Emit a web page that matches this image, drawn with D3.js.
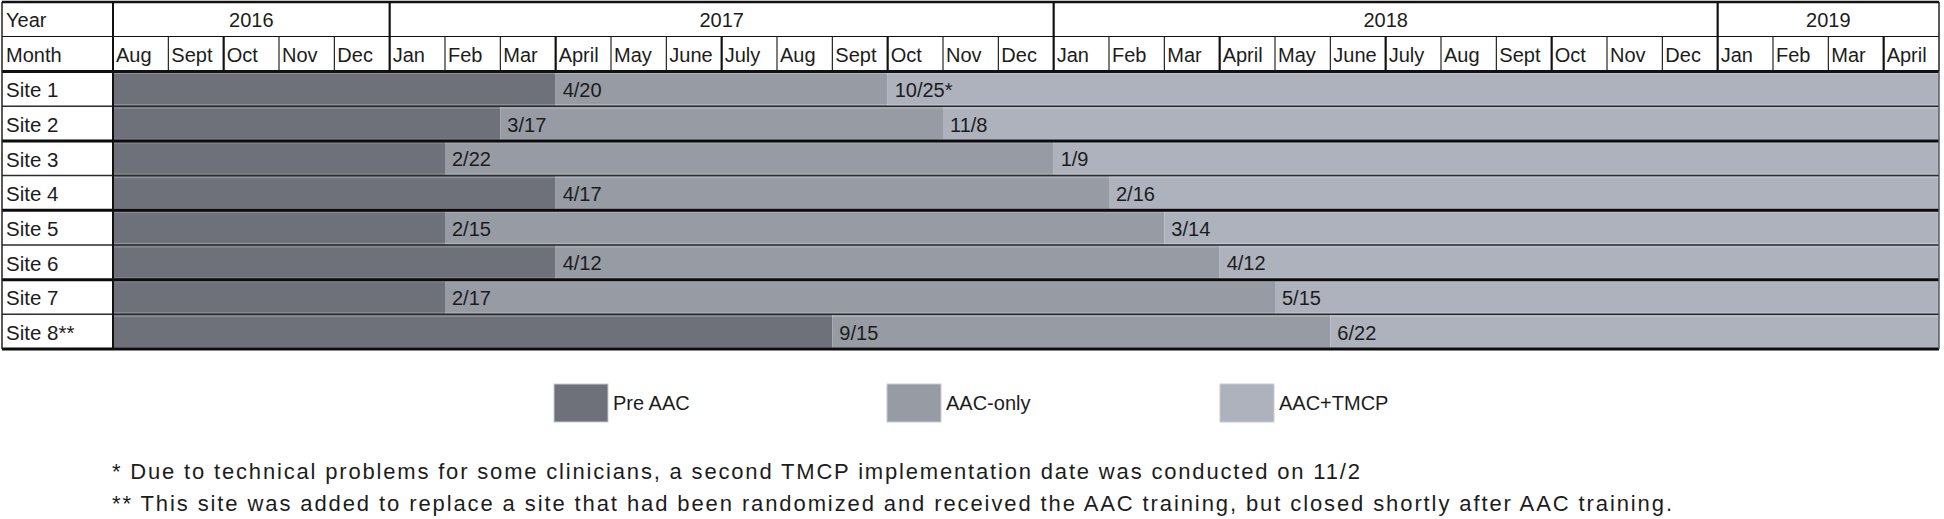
<!DOCTYPE html>
<html>
<head>
<meta charset="utf-8">
<script src="https://cdn.jsdelivr.net/npm/d3@7"></script>
<style>
  body { margin: 0; background: #fff; }
  svg text { font-family: "Liberation Sans", Arial, sans-serif; fill: #1c1c1c; }
</style>
</head>
<body>
<svg id="chart" width="1944" height="519"></svg>
<script>
const sites = ["Site 1", "Site 2", "Site 3", "Site 4", "Site 5", "Site 6", "Site 7", "Site 8**"];
const aacDates = ["2017-04-20", "2017-03-17", "2017-02-22", "2017-04-17", "2017-02-15", "2017-04-12", "2017-02-17", "2017-09-15"];
const tmcpDates = ["2017-10-25", "2017-11-08", "2018-01-09", "2018-02-16", "2018-03-14", "2018-04-12", "2018-05-15", "2018-06-22"];
const tmcpNotes = ["*", "", "", "", "", "", "", ""];
const monthNames = ["Jan", "Feb", "Mar", "April", "May", "June", "July", "Aug", "Sept", "Oct", "Nov", "Dec"];
const firstMonth = "2016-08-01";
const lastMonth = "2019-04-01";
const phases = ["Pre AAC", "AAC-only", "AAC+TMCP"];
const phaseColors = ["#6e7179", "#969ba4", "#adb2bd"];
const footnotes = [
    "* Due to technical problems for some clinicians, a second TMCP implementation date was conducted on 11/2",
    "** This site was added to replace a site that had been randomized and received the AAC training, but closed shortly after AAC training.",
];
// the footnotes are set in a narrow face with loose spacing, so stretch to the measured run
const footnoteWidths = [1248, 1560];

const parse = d3.timeParse("%Y-%m-%d");
const fmt = d3.timeFormat("%-m/%-d");
const months = d3.timeMonth.range(parse(firstMonth), d3.timeMonth.offset(parse(lastMonth), 1));

// table geometry
const tLeft = 2,
    labelRight = 113,
    tRight = 1939,
    tTop = 2,
    yearBottom = 36.5,
    monthBottom = 71.5,
    tBottom = 349;

const svg = d3.select("#chart");

const x = d3.scaleBand()
    .domain(months.map((m) => +m))
    .range([labelRight, tRight]);
const y = d3.scaleBand().domain(sites).range([monthBottom, tBottom]);

const mx = (d) => x(+d3.timeMonth.floor(d));

const rows = sites.map((site, i) => {
    const a = parse(aacDates[i]),
        t = parse(tmcpDates[i]);
    return {
        site: site,
        segs: [
            [labelRight, mx(a)],
            [mx(a), mx(t)],
            [mx(t), tRight],
        ],
        labels: [
            [mx(a), fmt(a)],
            [mx(t), fmt(t) + tmcpNotes[i]],
        ],
    };
});

// white header + label column
svg.append("rect")
    .attr("x", tLeft).attr("y", tTop)
    .attr("width", tRight - tLeft).attr("height", monthBottom - tTop)
    .attr("fill", "#fff");

// bars
const rowG = svg.append("g").selectAll("g").data(rows).join("g")
    .attr("transform", (d) => `translate(0,${y(d.site)})`);

rowG.selectAll("rect").data((d) => d.segs).join("rect")
    .attr("x", (s) => s[0])
    .attr("width", (s) => Math.max(0, s[1] - s[0]))
    .attr("height", y.bandwidth())
    .attr("fill", (s, i) => phaseColors[i]);

// faint highlight at top/bottom edge of each bar row
rowG.append("line")
    .attr("x1", labelRight).attr("x2", tRight)
    .attr("y1", 2).attr("y2", 2)
    .attr("stroke", "#fff").attr("stroke-opacity", 0.22).attr("stroke-width", 1.2);
rowG.append("line")
    .attr("x1", labelRight).attr("x2", tRight)
    .attr("y1", y.bandwidth() - 1.5).attr("y2", y.bandwidth() - 1.5)
    .attr("stroke", "#fff").attr("stroke-opacity", 0.22).attr("stroke-width", 1.2);

rowG.selectAll("text.date").data((d) => d.labels).join("text")
    .attr("class", "date")
    .attr("x", (l) => l[0] + 7)
    .attr("y", y.bandwidth() / 2 + 1)
    .attr("dominant-baseline", "central")
    .attr("font-size", 20)
    .text((l) => l[1]);

rowG.append("text")
    .attr("x", tLeft + 4)
    .attr("y", y.bandwidth() / 2 + 1)
    .attr("dominant-baseline", "central")
    .attr("font-size", 20.5)
    .text((d) => d.site);

// header texts
const hdr = svg.append("g");
hdr.append("text")
    .attr("x", tLeft + 4).attr("y", (tTop + yearBottom) / 2 + 1)
    .attr("dominant-baseline", "central").attr("font-size", 20)
    .text("Year");
hdr.append("text")
    .attr("x", tLeft + 4).attr("y", (yearBottom + monthBottom) / 2 + 1)
    .attr("dominant-baseline", "central").attr("font-size", 20)
    .text("Month");

const years = d3.groups(months, (m) => m.getFullYear());
hdr.selectAll("text.year").data(years).join("text")
    .attr("class", "year")
    .attr("x", (d) => (x(+d[1][0]) + x(+d[1][d[1].length - 1]) + x.bandwidth()) / 2)
    .attr("y", (tTop + yearBottom) / 2 + 1)
    .attr("text-anchor", "middle")
    .attr("dominant-baseline", "central")
    .attr("font-size", 20)
    .text((d) => d[0]);

hdr.selectAll("text.month").data(months).join("text")
    .attr("class", "month")
    .attr("x", (m) => x(+m) + 3)
    .attr("y", (yearBottom + monthBottom) / 2 + 1)
    .attr("dominant-baseline", "central")
    .attr("font-size", 20)
    .text((m) => monthNames[m.getMonth()]);

// grid lines
const grid = svg.append("g").attr("fill", "none");

// month dividers in month row, quarters thicker
grid.selectAll("line.month").data(months.slice(1)).join("line")
    .attr("x1", (m) => x(+m)).attr("x2", (m) => x(+m))
    .attr("y1", yearBottom).attr("y2", monthBottom)
    .attr("stroke", "#111")
    .attr("stroke-width", (m) => (m.getMonth() % 3 === 0 ? 2.2 : 1.1));

// year dividers through year row
grid.selectAll("line.year").data(years.slice(1)).join("line")
    .attr("x1", (d) => x(+d[1][0])).attr("x2", (d) => x(+d[1][0]))
    .attr("y1", tTop).attr("y2", yearBottom)
    .attr("stroke", "#111").attr("stroke-width", 2.2);

// horizontal rules
grid.append("line")
    .attr("x1", tLeft).attr("x2", tRight)
    .attr("y1", yearBottom).attr("y2", yearBottom)
    .attr("stroke", "#111").attr("stroke-width", 1.2);
grid.append("line")
    .attr("x1", tLeft).attr("x2", tRight)
    .attr("y1", monthBottom).attr("y2", monthBottom)
    .attr("stroke", "#111").attr("stroke-width", 3);

grid.selectAll("line.row").data(sites.slice(1)).join("line")
    .attr("x1", tLeft).attr("x2", tRight)
    .attr("y1", (s) => y(s)).attr("y2", (s) => y(s))
    .attr("stroke", (s, i) => (i % 2 === 1 ? "#0c0c0c" : "#2a2c30"))
    .attr("stroke-width", (s, i) => (i % 2 === 1 ? 3 : 1.6));

grid.append("line")
    .attr("x1", tLeft).attr("x2", tRight)
    .attr("y1", tBottom).attr("y2", tBottom)
    .attr("stroke", "#0c0c0c").attr("stroke-width", 3);

// label column edge and outer frame
grid.append("line")
    .attr("x1", labelRight).attr("x2", labelRight)
    .attr("y1", tTop).attr("y2", tBottom)
    .attr("stroke", "#111").attr("stroke-width", 2);
grid.append("line")
    .attr("x1", tLeft).attr("x2", tLeft)
    .attr("y1", tTop).attr("y2", tBottom)
    .attr("stroke", "#222").attr("stroke-width", 1.5);
grid.append("line")
    .attr("x1", tRight).attr("x2", tRight)
    .attr("y1", tTop).attr("y2", monthBottom)
    .attr("stroke", "#222").attr("stroke-width", 1.5);
grid.append("line")
    .attr("x1", tRight).attr("x2", tRight)
    .attr("y1", monthBottom).attr("y2", tBottom)
    .attr("stroke", "#5a5d63").attr("stroke-width", 1.5);
grid.append("line")
    .attr("x1", tLeft).attr("x2", tRight)
    .attr("y1", tTop).attr("y2", tTop)
    .attr("stroke", "#111").attr("stroke-width", 2.5);

// legend
const legend = svg.append("g").selectAll("g").data(phases).join("g")
    .attr("transform", (d, i) => `translate(${554 + i * 333},384)`);
legend.append("rect")
    .attr("width", 54).attr("height", 38)
    .attr("fill", (d, i) => phaseColors[i])
    .attr("stroke", "#c8cbd1").attr("stroke-width", 1);
legend.append("text")
    .attr("x", 59).attr("y", 19)
    .attr("dominant-baseline", "central")
    .attr("font-size", 20)
    .text((d) => d);

// footnotes
svg.append("g").selectAll("text").data(footnotes).join("text")
    .attr("x", 112)
    .attr("y", (d, i) => 471 + i * 32)
    .attr("dominant-baseline", "central")
    .attr("font-size", 22)
    .attr("textLength", (d, i) => footnoteWidths[i])
    .attr("lengthAdjust", "spacing")
    .text((d) => d);
</script>
</body>
</html>
